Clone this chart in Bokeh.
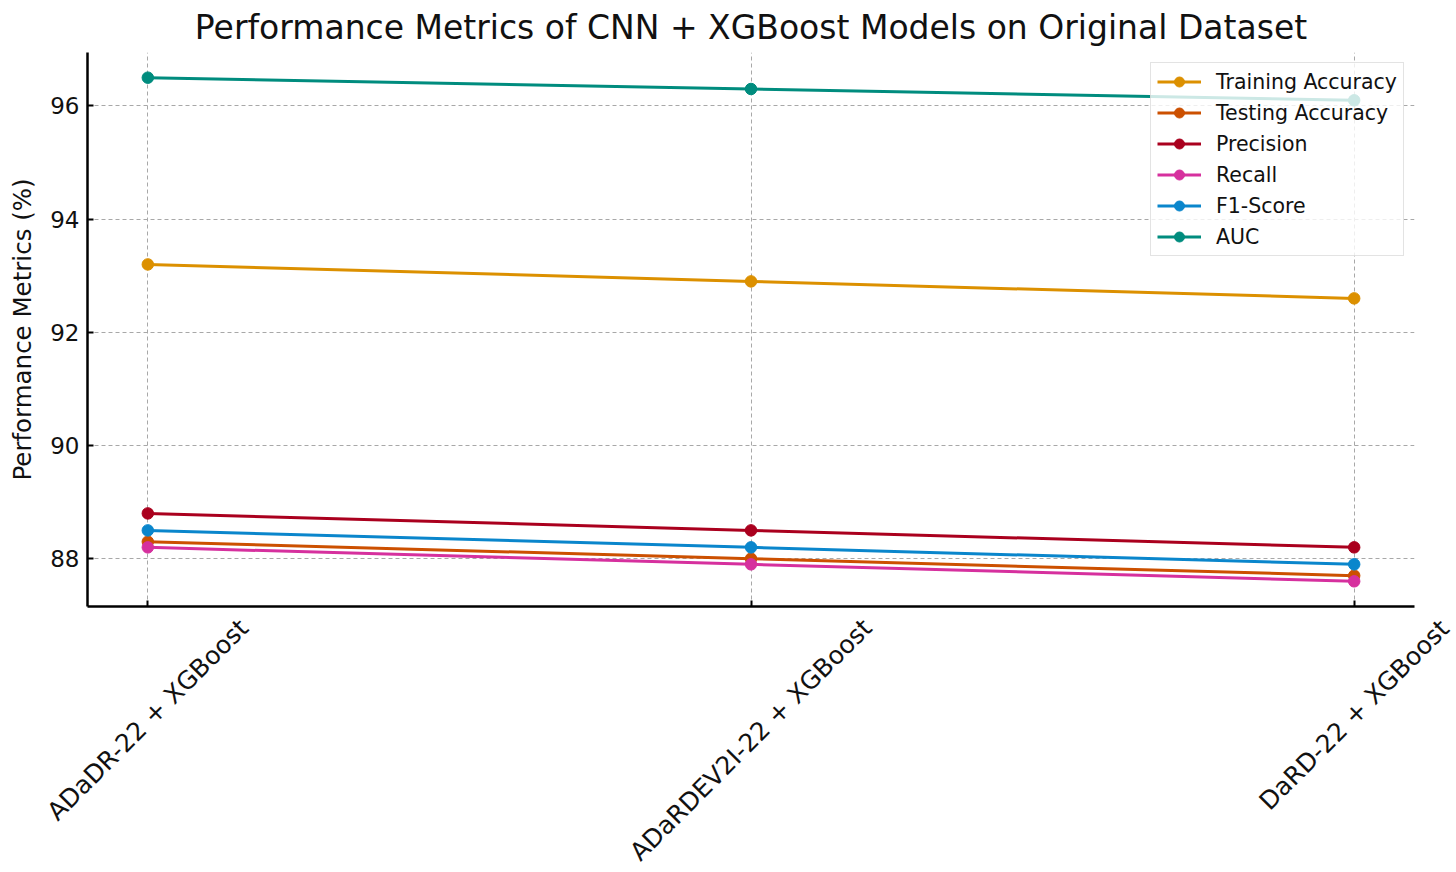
import math
from bokeh.plotting import figure
from bokeh.layouts import column
from bokeh.models import FixedTicker, Legend, LegendItem, Range1d, ColumnDataSource
from bokeh.core.properties import value
from bokeh.embed import file_html
from bokeh.resources import INLINE

# ---- data ----
models = ["ADaDR-22 + XGBoost", "ADaRDEV2I-22 + XGBoost", "DaRD-22 + XGBoost"]
training_accuracy = [93.2, 92.9, 92.6]
testing_accuracy = [88.3, 88.0, 87.7]
precision = [88.8, 88.5, 88.2]
recall = [88.2, 87.9, 87.6]
f1_score = [88.5, 88.2, 87.9]
auc = [96.5, 96.3, 96.1]
y_ticks = [88, 90, 92, 94, 96]

series = [
    ("Training Accuracy", training_accuracy, "#DC9000"),
    ("Testing Accuracy", testing_accuracy, "#CC5000"),
    ("Precision", precision, "#AA001E"),
    ("Recall", recall, "#D6309E"),
    ("F1-Score", f1_score, "#0A86CC"),
    ("AUC", auc, "#008C7E"),
]

FONT = "DejaVu Sans"
W = 1456
LEFT, RIGHT, TOP, AXIS_H = 87, W - 1414, 52, 2
FRAME_H = 554
LABEL_H = 258

xs = list(range(len(models)))
all_vals = [v for _, vals, _ in series for v in vals]
ymin, ymax = min(all_vals), max(all_vals)
ypad = (ymax - ymin) * 0.05
x_start, x_end = -0.1, len(models) - 1 + 0.1
x_range = Range1d(x_start, x_end)

p = figure(width=W, height=TOP + FRAME_H + AXIS_H, output_backend="svg", toolbar_location=None,
           x_range=x_range, y_range=Range1d(ymin - ypad, ymax + ypad),
           min_border_left=LEFT, min_border_right=RIGHT, min_border_top=TOP, min_border_bottom=AXIS_H)
p.outline_line_color = None
p.frame_align = False

p.title.text = "Performance Metrics of CNN + XGBoost Models on Original Dataset"
p.title.align = "center"
p.title.text_font = FONT
p.title.text_font_size = "33px"
p.title.text_font_style = "normal"
p.title.text_color = "#111111"
p.title.standoff = 11

for ax in (p.xaxis[0], p.yaxis[0]):
    ax.axis_line_width = 2.5
    ax.axis_line_color = "black"
    ax.major_tick_in = 6
    ax.major_tick_out = 0
    ax.major_tick_line_width = 2
    ax.minor_tick_line_color = None
    ax.major_label_text_font = FONT
    ax.major_label_text_font_size = "23px"
    ax.major_label_text_color = "#111111"

p.xaxis.ticker = FixedTicker(ticks=xs)
p.xaxis.major_label_text_font_size = "0px"
p.xaxis.major_label_text_color = None
p.xaxis.major_label_standoff = 0

p.yaxis.ticker = FixedTicker(ticks=y_ticks)
p.yaxis.major_label_standoff = 8
p.yaxis.axis_label = "Performance Metrics (%)"
p.yaxis.axis_label_text_font = FONT
p.yaxis.axis_label_text_font_size = "24.5px"
p.yaxis.axis_label_text_font_style = "normal"
p.yaxis.axis_label_text_color = "#111111"
p.yaxis.axis_label_standoff = 10

for g in (p.xgrid[0], p.ygrid[0]):
    g.grid_line_color = "#a8a8a8"
    g.grid_line_dash = "4 3"
    g.grid_line_width = 1
p.xgrid.ticker = FixedTicker(ticks=xs)
p.ygrid.ticker = FixedTicker(ticks=y_ticks)

items = []
for name, vals, color in series:
    src = ColumnDataSource(dict(x=xs, y=vals))
    l = p.line("x", "y", source=src, line_color=color, line_width=3)
    c = p.scatter("x", "y", source=src, marker="circle", size=11.5,
                  fill_color=color, line_color=color)
    items.append(LegendItem(label=name, renderers=[l, c]))

legend = Legend(items=items, location="top_right", margin=10, padding=6, spacing=6,
                label_height=25, glyph_height=25, glyph_width=44, label_standoff=15,
                label_text_font=FONT, label_text_font_size="20.5px", label_text_color="#111111",
                background_fill_color="white", background_fill_alpha=0.8,
                border_line_color="#c8c8c8", border_line_width=1.5)
p.add_layout(legend, "center")

# ---- rotated category labels in a full-width strip below, same x scale ----
frame_w = W - LEFT - RIGHT
px_per_unit = frame_w / (x_end - x_start)
x_range2 = Range1d(x_start - LEFT / px_per_unit, x_end + RIGHT / px_per_unit)

fs = 25
char_w = 0.566 * fs
txt_h = 1.17 * fs
gap = 11
label_y = [-(gap + (len(m) * char_w + txt_h) * math.sqrt(0.5) / 2) for m in models]

p2 = figure(width=W, height=LABEL_H, output_backend="svg", toolbar_location=None,
            x_range=x_range2, y_range=Range1d(-LABEL_H, 0),
            x_axis_type=None, y_axis_type=None,
            min_border_left=0, min_border_right=0, min_border_top=0, min_border_bottom=0)
p2.outline_line_color = None
p2.frame_align = False
p2.grid.visible = False
p2.text(x=xs, y=label_y, text=models, angle=math.pi / 4,
        text_align="center", text_baseline="middle",
        text_font=value(FONT), text_font_size=f"{fs}px", text_color="#111111")

layout = column(p, p2, spacing=0)
open("out.html", "w").write(file_html(layout, INLINE))
